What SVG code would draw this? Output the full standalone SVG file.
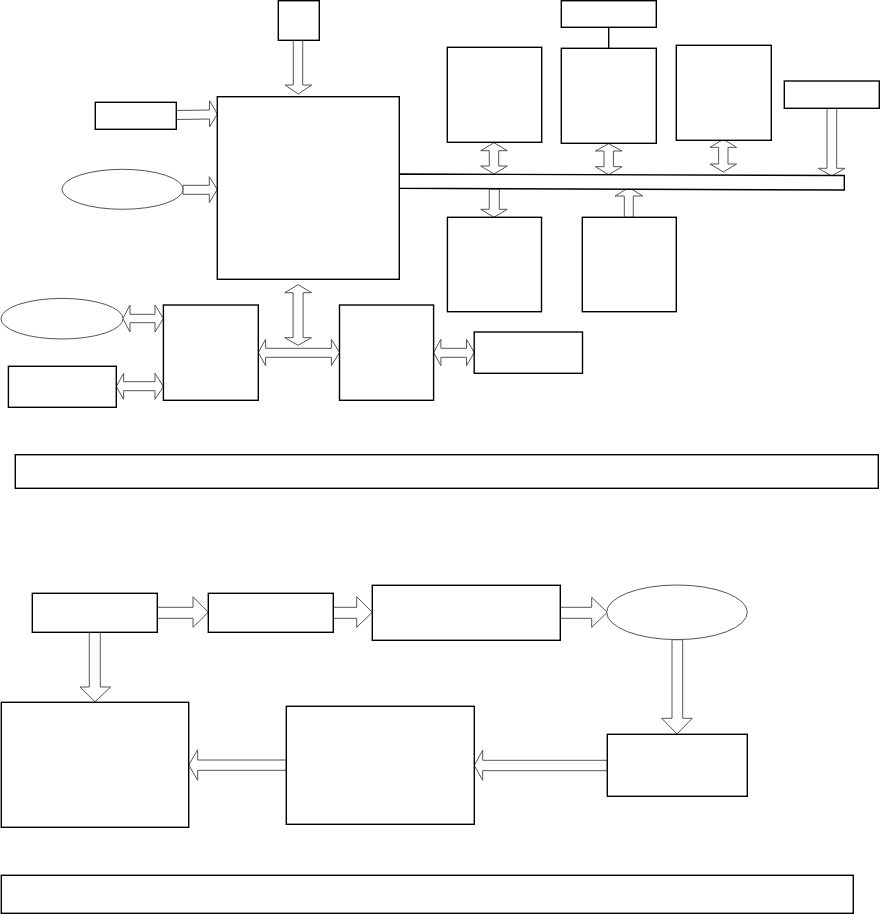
<svg xmlns="http://www.w3.org/2000/svg" width="880" height="914" viewBox="0 0 880 914">
<style>
.box{fill:#fff;stroke:#000;stroke-width:1.4}
.ell{fill:#fff;stroke:#555;stroke-width:1}
.arr{fill:#fff;stroke:#555;stroke-width:1;stroke-linejoin:miter}
.ln{stroke:#000;stroke-width:1.4;fill:none}
</style>
<rect width="880" height="914" fill="#fff"/>
<g id="connectors">
<polygon class="arr" points="293.3,40 302.7,40 302.7,85 311.7,85 298.3,94 285,85 293.3,85"/>
<polygon class="arr" points="176.3,110.5 209.5,110 209.5,100.7 217.3,114 209.5,127 209.5,119 176.3,119.5"/>
<polygon class="arr" points="183,185.3 209.3,185.3 209.3,176.7 217.3,189.5 209.3,202.7 209.3,194.3 183,194.3"/>
<polygon class="arr" points="494,142.7 507.3,150.7 498.7,150.7 498.7,166 507.3,166 494,174 480.7,166 489.3,166 489.3,150.7 480.7,150.7"/>
<polygon class="arr" points="608.7,143.7 622,151 613.4,151 613.4,166.7 622,166.7 608.7,174.7 595.4,166.7 604,166.7 604,151 595.4,151"/>
<polygon class="arr" points="723.3,139.3 736.6,147.3 728,147.3 728,164 736.6,164 723.3,172 710,164 718.6,164 718.6,147.3 710,147.3"/>
<polygon class="arr" points="827,108.3 836.7,108.3 836.7,168.3 845,168.3 831.7,176 818.3,168.3 827,168.3"/>
<polygon class="arr" points="489.3,189 499.3,189 499.3,209.3 507.3,209.3 494,217.3 480.7,209.3 489.3,209.3"/>
<polygon class="arr" points="624.3,217.3 633.3,217.3 633.3,196 642.7,196 629,187.5 615,196 624.3,196"/>
<polygon class="arr" points="298.1,284.7 311.5,292.7 303.1,292.7 303.1,337.7 311.5,337.7 298.1,345.3 284.7,337.7 293.1,337.7 293.1,292.7 284.7,292.7"/>
<polygon class="arr" points="122.8,318.5 130,305 130,314.3 155,314.3 155,305 163.4,318.5 155,332 155,322.7 130,322.7 130,332"/>
<polygon class="arr" points="116.3,386.5 123.6,373.3 123.6,381.7 155,381.7 155,373.3 163.4,386.5 155,399.3 155,390.7 123.6,390.7 123.6,399.3"/>
<polygon class="arr" points="258.3,352.5 265.6,339.3 265.6,348.3 331.4,348.3 331.4,339.3 339.5,352.5 331.4,365.7 331.4,357.3 265.6,357.3 265.6,365.7"/>
<polygon class="arr" points="433.6,352.5 440.9,339.3 440.9,348.3 466.5,348.3 466.5,339.3 474.2,352.5 466.5,365.7 466.5,357.3 440.9,357.3 440.9,365.7"/>
<polygon class="arr" points="157.3,607.3 193,607.3 193,596.7 208.3,612.3 193,627.3 193,618.3 157.3,618.3"/>
<polygon class="arr" points="333.3,607.3 356.7,607.3 356.7,596.7 372.3,612.3 356.7,627.3 356.7,618.3 333.3,618.3"/>
<polygon class="arr" points="560.3,607.3 591.7,607.3 591.7,597.3 607.3,612.3 591.7,627.3 591.7,618.3 560.3,618.3"/>
<polygon class="arr" points="89.3,632.3 100.3,632.3 100.3,687 110.7,687 95,701.7 80,687 89.3,687"/>
<polygon class="arr" points="672,639.7 682.7,639.7 682.7,718.3 692.3,718.3 677,734 661.7,718.3 672,718.3"/>
<polygon class="arr" points="607.3,760.3 482.7,760.3 482.7,750 474.3,765.5 482.7,780.3 482.7,770.7 607.3,770.7"/>
<polygon class="arr" points="286.3,760 197.7,760 197.7,749.7 188.7,765 197.7,780.3 197.7,770.3 286.3,770.3"/>
<line class="ln" x1="608.7" y1="27.3" x2="608.7" y2="48.3"/>
</g>
<g id="bus"><polygon class="box" points="399.3,174 844.3,175.5 844.3,190 399.3,188.3"/></g>
<g id="n-top"><rect class="box" x="278.3" y="0.7" width="41" height="39.6"/></g>
<g id="n-main"><rect class="box" x="217.3" y="96.7" width="182" height="182.6"/></g>
<g id="n-left"><rect class="box" x="95.3" y="102.3" width="81" height="27"/></g>
<g id="n-ell1"><ellipse class="ell" cx="122.5" cy="189.3" rx="60.5" ry="20"/></g>
<g id="n-topright"><rect class="box" x="561.3" y="0.7" width="95" height="26.6"/></g>
<g id="n-a"><rect class="box" x="447.3" y="47.3" width="94.4" height="95"/></g>
<g id="n-b"><rect class="box" x="561.3" y="48.3" width="95" height="95"/></g>
<g id="n-c"><rect class="box" x="676.3" y="45.3" width="95" height="95"/></g>
<g id="n-r"><rect class="box" x="784.3" y="81" width="95" height="27.3"/></g>
<g id="n-d"><rect class="box" x="447.4" y="217.3" width="94.1" height="94.4"/></g>
<g id="n-e"><rect class="box" x="582.3" y="217.3" width="94" height="94.4"/></g>
<g id="n-ell0"><ellipse class="ell" cx="62" cy="318.7" rx="61" ry="20.3"/></g>
<g id="n-f"><rect class="box" x="163.4" y="305" width="94.9" height="95.3"/></g>
<g id="n-g"><rect class="box" x="339.5" y="305" width="94.1" height="95.3"/></g>
<g id="n-h"><rect class="box" x="474.2" y="332" width="108.3" height="41.3"/></g>
<g id="n-i"><rect class="box" x="8.4" y="366.3" width="107.9" height="41"/></g>
<g id="n-label1"><rect class="box" x="15.3" y="454.7" width="863" height="33.6"/></g>
<g id="n-j"><rect class="box" x="32.3" y="593.3" width="125" height="39"/></g>
<g id="n-k"><rect class="box" x="208.3" y="593.3" width="125" height="39"/></g>
<g id="n-l"><rect class="box" x="372.3" y="585.3" width="188" height="55"/></g>
<g id="n-ell2"><ellipse class="ell" cx="677" cy="612.3" rx="70.3" ry="27.3"/></g>
<g id="n-m"><rect class="box" x="1.3" y="702.3" width="187.4" height="125"/></g>
<g id="n-n"><rect class="box" x="286.3" y="706.3" width="188" height="118"/></g>
<g id="n-o"><rect class="box" x="607.3" y="734.3" width="140" height="62"/></g>
<g id="n-label2"><rect class="box" x="1.3" y="875.3" width="852" height="38"/></g>
</svg>
